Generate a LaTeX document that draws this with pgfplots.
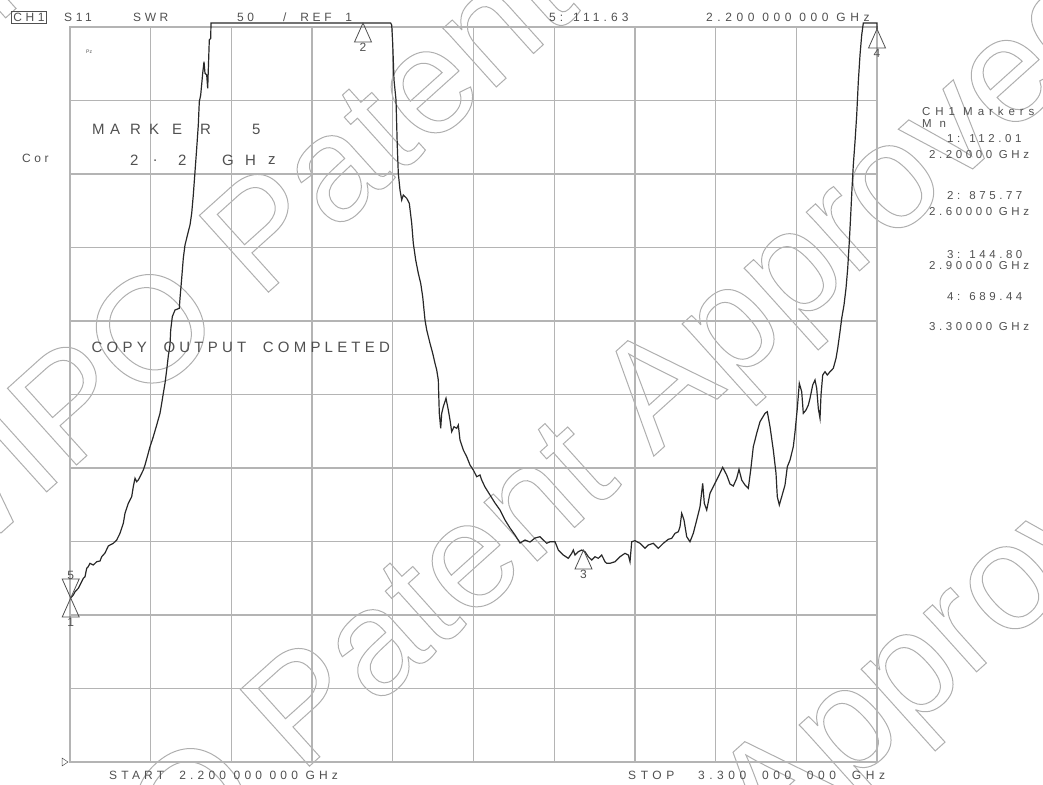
\documentclass[border=0pt]{standalone}
\usepackage{pgfplots}
\pgfplotsset{compat=1.18}
\usepackage{fontspec}
\setmainfont{Liberation Sans}
\definecolor{grd}{RGB}{180,180,180}
\definecolor{wmk}{RGB}{175,175,175}
\definecolor{txt}{RGB}{80,80,80}
\definecolor{trc}{RGB}{40,40,40}
\newcommand{\scr}[2][30]{{\addfontfeature{LetterSpace=#1}#2}}
\newcommand{\outl}[1]{\special{pdf:literal direct 1 Tr 1 w}#1\special{pdf:literal direct 0 Tr}}
\pgfdeclareplotmark{mkup}{\pgfpathmoveto{\pgfpointorigin}\pgfpathlineto{\pgfpoint{-8.5pt}{-19pt}}\pgfpathlineto{\pgfpoint{8.5pt}{-19pt}}\pgfpathclose\pgfusepathqstroke}
\pgfdeclareplotmark{mkdn}{\pgfpathmoveto{\pgfpointorigin}\pgfpathlineto{\pgfpoint{-8.5pt}{19pt}}\pgfpathlineto{\pgfpoint{8.5pt}{19pt}}\pgfpathclose\pgfusepathqstroke}

\pgfplotstableread{
px py
70.7 598
73.3 595
75 591.7
78.3 588.3
80 585
83.3 578.3
85 576.7
86.7 568.3
88 567
90 563.3
93.3 565
96.7 561.7
100 561
101.7 556.7
105 553
108.3 546
110 545
113.3 543.3
116.7 540
120 533.3
123.3 523.3
125 513.3
128.3 503.3
131.7 496.7
133.3 486.7
135 478.3
136.7 481.7
138.3 480
140 476.7
143.3 470
145 465
147.3 456.7
150 446.7
153.3 436.7
156.7 425
160 413.3
161.7 403.3
163.3 393.3
165 383.3
166.7 370
168.3 356
170 345
170.7 330
172.3 316.7
175 310
179.3 308.3
180 298.3
181.7 278.3
183.3 258.3
185 245
188.3 231.7
190 225
191.7 213.3
193.3 195
195 171.7
196.7 148.3
198.3 125
199.3 101.7
200.7 95
202.7 73.3
204 61.7
205 73.3
206.7 75
207.7 88.3
208.3 70
209.3 40
210.7 38.3
211 23
390.7 23
391.7 25
392.7 43.3
394 80
396 100
397.3 146.7
398.3 173.3
400 190
401.7 200
403.3 195
406.7 198.3
409.3 203.3
411.7 223.3
413.3 243.3
415.7 260
418.3 273.3
420.7 283.3
422.7 296.7
425 320
426.7 330
430 343.3
432.7 353.3
435 363.3
436.7 370
438.3 380
439.3 413.3
440.7 428.3
441.7 413.3
443.3 406.7
446 398.3
448.3 410
450 420
451.7 431.7
454 426.7
456.7 428.3
458.3 425
460 440
463.3 450
466.7 456.7
470 465
473.3 470
476.7 476.7
480 475
481.7 480
485 487
490 495
495 503
500 510
505 520
510 528
515 535
520 543
525 540
530 542
535 538
540 536.7
546.7 543.3
550 541.7
555 541.7
558.3 550
563.3 555
568.3 558.3
571.7 553.3
573.3 550
575 555
578.3 551.7
581.7 550
585 551.7
588.3 556.7
591.7 560
595 556.7
598.3 558.3
601.7 555
605 561.7
606.7 563.3
610 563.3
615 561.7
620 556.7
625 553.3
628.3 555
630 561.7
631.7 541.7
635 540.7
640 543.3
645 548.3
648.3 545
653.3 543.3
658.3 548.3
663.3 543.3
668.3 539.3
671.7 538.3
675 533.3
678.3 531.7
680 526.7
681.7 513.3
684 520
686.7 536.7
690 541.7
693.3 533.3
696.7 520
700 506.7
702.7 483.3
704.3 503.3
706.7 510
710 493.3
713.3 486.7
718.3 476.7
722.7 467.3
726.7 475
730 484
733.3 486
736.7 478.3
739 469.3
741.7 480
745 485
748.3 488.3
750.7 470
753.3 446.7
756.7 433.3
760 421.7
765 413.3
767.3 411.7
770 426.7
773.3 450
776 473.3
777.3 496.7
779.3 505
781.7 496.7
785 485
787.3 466.7
790 460
793.3 446.7
795 432
797.3 408.3
799.3 383.3
801.7 391.7
803.3 413.3
806 410
808.3 405
810 398.3
812.7 385
815 380
816.7 388.3
818.3 408.3
820 418.3
821 395
822.7 375
825 371.7
827.3 375
830 371.7
833.3 368.3
836 358.3
837.7 348.3
840 331.7
841.7 318.3
844 305
846 288.3
847.7 268.3
849.3 241.7
850.7 215
852 188.3
853.3 165
855 141.7
856.7 115
858.3 81.7
860 55
861.7 35
863.3 23
877 23
877 29
}\trace

\begin{document}
\begin{tikzpicture}[x=1pt,y=-1pt,font=\fontsize{12}{14}\selectfont]
\path[use as bounding box] (0,0) rectangle (1043,784);
% watermark (outlined text)
\begin{scope}
\clip (0,0) rectangle (1043,784);
\begin{scope}[every node/.style={anchor=base west, inner sep=0pt, text=wmk, rotate=42, font=\fontsize{150}{150}\selectfont}]
\node at (-110,122) {\outl{WIPO Patent Approved}};
\node at (-69,596) {\outl{WIPO Patent Approved}};
\node at (-28,1070) {\outl{WIPO Patent Approved}};
\node at (89,1471) {\outl{WIPO Patent Approved}};
\end{scope}
\end{scope}
\begin{axis}[at={(70pt,-762pt)}, anchor=south west,
  width=807pt, height=735pt, scale only axis,
  xmin=70, xmax=877, ymin=27, ymax=762, y dir=reverse,
  xtick={70,150.7,231.4,312.1,392.8,473.5,554.2,634.9,715.6,796.3,877},
  ytick={27,100.5,174,247.5,321,394.5,468,541.5,615,688.5,762},
  xticklabels={}, yticklabels={}, major tick length=0pt,
  grid=major, grid style={grd, line width=1.3pt},
  axis line style={grd, line width=1.3pt},
  clip=false]
\addplot[trc, line width=1.2pt, mark=none] table[x=px, y=py] {\trace};
\addplot[txt, line width=0.8pt, only marks, mark=mkup,
  nodes near coords={1}, every node near coord/.style={anchor=north, yshift=-19pt, inner sep=1pt, font=\fontsize{12}{14}\selectfont, txt}]
  coordinates {(70.7,598)};
\addplot[txt, line width=0.8pt, only marks, mark=mkdn,
  nodes near coords={5}, every node near coord/.style={anchor=south, yshift=17pt, inner sep=1pt, font=\fontsize{12}{14}\selectfont, txt}]
  coordinates {(70.7,598)};
\addplot[txt, line width=0.8pt, only marks, mark=mkup,
  nodes near coords={2}, every node near coord/.style={anchor=north, yshift=-19pt, inner sep=1pt, font=\fontsize{12}{14}\selectfont, txt}]
  coordinates {(363,23)};
\addplot[txt, line width=0.8pt, only marks, mark=mkup,
  nodes near coords={3}, every node near coord/.style={anchor=north, yshift=-19pt, inner sep=1pt, font=\fontsize{12}{14}\selectfont, txt}]
  coordinates {(583.5,550)};
\addplot[txt, line width=0.8pt, only marks, mark=mkup,
  nodes near coords={4}, every node near coord/.style={anchor=north, yshift=-19pt, inner sep=1pt, font=\fontsize{12}{14}\selectfont, txt}]
  coordinates {(877,29)};
\end{axis}

\begin{scope}[every node/.style={anchor=west, inner sep=0pt, text=txt}]
\node[draw=txt, line width=0.8pt, inner xsep=2pt, inner ysep=2pt] at (11,17.5) {\scr{CH1}};
\node at (64,17) {\scr{S11}};
\node at (133,17) {\scr{SWR}};
\node at (237,17) {\scr{50}};
\node at (283,17) {\scr{/ \ REF \ 1}};
\node at (549,17) {\scr[34]{5: 111.63}};
\node at (706,17) {\scr[38]{2.200 000 000 GHz}};
\node at (22,158) {\scr{Cor}};
\node at (86,52) {\fontsize{5}{6}\selectfont Pz};
\node at (109,775) {\scr[35]{START \ 2.200 000 000 GHz}};
\node at (628,775) {\scr[38]{STOP \ \ 3.300 \ 000 \ 000 \ GHz}};
% right marker list
\begin{scope}[every node/.append style={font=\fontsize{11.5}{13}\selectfont}]
\node at (922,111) {\scr[43]{CH1 Markers}};
\node at (922,124) {\scr[40]{M n}};
\node at (947,139) {\scr[31]{1: 112.01}};
\node at (929,155) {\scr[31]{2.20000 GHz}};
\node at (947,196) {\scr[31]{2: 875.77}};
\node at (929,212) {\scr[31]{2.60000 GHz}};
\node at (947,255) {\scr[31]{3: 144.80}};
\node at (929,266) {\scr[31]{2.90000 GHz}};
\node at (947,297) {\scr[31]{4: 689.44}};
\node at (929,327) {\scr[31]{3.30000 GHz}};
\end{scope}
% big texts
\foreach \c/\xx in {M/92,A/110,R/130,K/149,E/172,R/200,5/252}
  \node[font=\fontsize{15}{17}\selectfont] at (\xx,129.5) {\c};
\foreach \c/\xx in {2/130,./153,2/178,G/222,H/245,z/268}
  \node[font=\fontsize{15}{17}\selectfont] at (\xx,160.5) {\c};
\node[font=\fontsize{15}{17}\selectfont] at (91.5,347.5) {\scr[28]{COPY \ OUTPUT \ COMPLETED}};
\end{scope}
\filldraw[txt, line width=0.5pt, fill=white] (62,758) -- (62,766) -- (68,762) -- cycle;
\end{tikzpicture}
\end{document}
